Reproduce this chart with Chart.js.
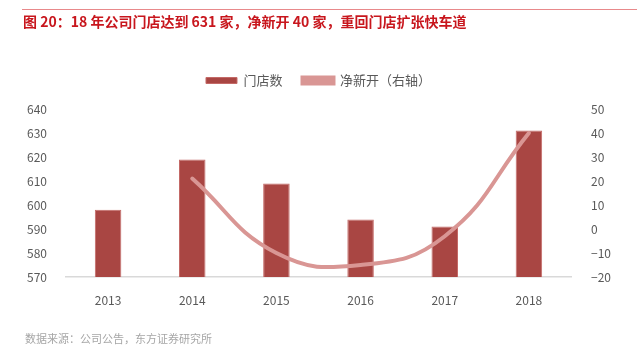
<!DOCTYPE html>
<html>
<head>
<meta charset="utf-8">
<script src="https://cdn.jsdelivr.net/npm/chart.js@4/dist/chart.umd.min.js"></script>
<style>
  html, body { margin: 0; padding: 0; background: #fff; }
  body { width: 637px; height: 349px; position: relative; overflow: hidden;
         font-family: "Noto Sans CJK SC", "Noto Sans", sans-serif; }
  #topline { position: absolute; left: 22px; right: 0; top: 9px; height: 1px; background: #e8898b; }
  #title { position: absolute; left: 23px; top: 11px; font-size: 14px; font-weight: bold;
           color: #c8161d; white-space: nowrap; }
  #source { position: absolute; left: 25px; top: 330px; font-size: 11px; color: #a6a6a6; white-space: nowrap; }
  #wrap { position: absolute; left: 0; top: 0; width: 637px; height: 349px; }
</style>
</head>
<body>
<div id="wrap"><canvas id="chart"></canvas></div>
<div id="topline"></div>
<div id="title">图 20：18 年公司门店达到 631 家，净新开 40 家，重回门店扩张快车道</div>
<div id="source">数据来源：公司公告，东方证券研究所</div>
<script>
  const years = ['2013', '2014', '2015', '2016', '2017', '2018'];
  const storeCount = [598, 619, 609, 594, 591, 631];
  const netNew = [null, 21, -10, -15, -3, 40];
  const leftTicks = [570, 580, 590, 600, 610, 620, 630, 640];
  const rightTicks = [-20, -10, 0, 10, 20, 30, 40, 50];

  const tickFont = { family: '"Noto Sans CJK SC", "Noto Sans", sans-serif', size: 12 };
  const minus = v => String(v).replace('-', '\u2212');

  // push the plot area a little below the legend
  const legendGap = {
    id: 'legendGap',
    beforeInit(chart) {
      const fit = chart.legend.fit;
      chart.legend.fit = function () {
        fit.bind(chart.legend)();
        this.height += 12;
      };
    }
  };

  new Chart(document.getElementById('chart'), {
    data: {
      labels: years,
      datasets: [
        {
          type: 'bar',
          label: '门店数',
          data: storeCount,
          yAxisID: 'y',
          backgroundColor: '#a94643',
          borderColor: '#c46a67',
          borderWidth: 1,
          categoryPercentage: 1,
          barPercentage: 0.315,
          order: 1
        },
        {
          type: 'line',
          label: '净新开（右轴）',
          data: netNew,
          yAxisID: 'y1',
          borderColor: '#d99694',
          backgroundColor: '#d99694',
          borderWidth: 4,
          borderCapStyle: 'round',
          pointRadius: 0,
          tension: 0.45,
          order: 0
        }
      ]
    },
    options: {
      responsive: true,
      maintainAspectRatio: false,
      animation: false,
      layout: { padding: { top: 54, bottom: 42, left: 0, right: 0 } },
      plugins: {
        legend: {
          position: 'top',
          labels: {
            boxWidth: 31,
            boxHeight: 6,
            padding: 20,
            color: '#595959',
            font: { family: tickFont.family, size: 13 },
            sort: (a, b) => a.datasetIndex - b.datasetIndex
          }
        },
        tooltip: { enabled: false }
      },
      scales: {
        x: {
          grid: { display: false },
          border: { display: true, color: '#d9d9d9', width: 1.5 },
          ticks: { color: '#595959', font: tickFont, padding: 8 },
          afterFit: s => { s.height = 30; }
        },
        y: {
          position: 'left',
          min: 570,
          max: 640,
          grid: { display: false },
          border: { display: false },
          afterBuildTicks: s => { s.ticks = leftTicks.map(v => ({ value: v })); },
          ticks: { color: '#595959', font: tickFont, padding: 11 },
          afterFit: s => { s.width = 66; }
        },
        y1: {
          position: 'right',
          min: -20,
          max: 50,
          grid: { display: false },
          border: { display: false },
          afterBuildTicks: s => { s.ticks = rightTicks.map(v => ({ value: v })); },
          ticks: { color: '#595959', font: tickFont, padding: 12, callback: v => minus(v) },
          afterFit: s => { s.width = 66; }
        }
      }
    },
    plugins: [legendGap]
  });
</script>
</body>
</html>
